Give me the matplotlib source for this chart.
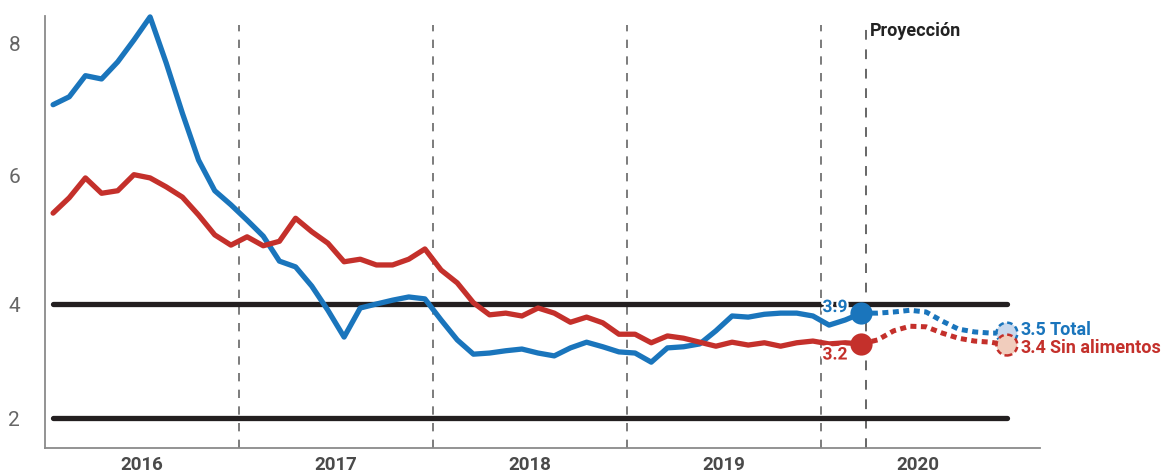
import numpy as np
import pandas as pd
import matplotlib
matplotlib.use("Agg")
import matplotlib.pyplot as plt
import matplotlib.patheffects as pe

# ---------------- data ----------------
months_obs = pd.period_range("2016-01", "2020-03", freq="M")
total_obs = [7.08, 7.20, 7.52, 7.47, 7.73, 8.06, 8.41, 7.71, 6.95, 6.24, 5.77, 5.55,
             5.31, 5.06, 4.67, 4.58, 4.28, 3.89, 3.42, 3.93, 4.00, 4.06, 4.11, 4.08,
             3.72, 3.37, 3.12, 3.14, 3.18, 3.21, 3.14, 3.09, 3.23, 3.33, 3.25, 3.16,
             3.14, 2.98, 3.23, 3.25, 3.30, 3.53, 3.79, 3.77, 3.82, 3.84, 3.84, 3.79,
             3.63, 3.72, 3.84]
core_obs = [5.42, 5.66, 5.97, 5.73, 5.77, 6.02, 5.97, 5.83, 5.67, 5.39, 5.08, 4.92,
            5.05, 4.91, 4.98, 5.34, 5.13, 4.95, 4.66, 4.70, 4.61, 4.61, 4.70, 4.86,
            4.53, 4.33, 4.02, 3.81, 3.84, 3.79, 3.93, 3.84, 3.68, 3.77, 3.67, 3.47,
            3.47, 3.32, 3.44, 3.40, 3.33, 3.26, 3.33, 3.28, 3.32, 3.26, 3.32, 3.35,
            3.30, 3.32, 3.30]

months_proj = pd.period_range("2020-03", "2020-12", freq="M")
total_proj = [3.84, 3.84, 3.86, 3.89, 3.86, 3.70, 3.56, 3.51, 3.49, 3.49]
core_proj = [3.30, 3.37, 3.53, 3.61, 3.60, 3.49, 3.40, 3.35, 3.33, 3.28]

target_band = [2, 4]
y_ticks = [2, 4, 6, 8]
year_labels = ["2016", "2017", "2018", "2019", "2020"]
year_bounds = [2017, 2018, 2019, 2020]
last_labels = ["3.9", "3.2"]
end_values = ["3.5", "3.4"]
end_names = ["Total", "Sin alimentos"]
proj_title = "Proyección"

# ---------------- style ----------------
BLUE = "#1a75bc"
RED = "#c4302b"
BLUE_FILL = "#c9d8ec"
RED_FILL = "#f1cdbd"
BLACK = "#231f20"
GREY = "#666666"
FONT = ["Roboto", "DejaVu Sans"]
plt.rcParams["font.family"] = FONT


def to_x(periods):
    return np.asarray(periods.year + (periods.month - 0.5) / 12.0, dtype=float)


# piecewise-linear vertical scale (the original's axis is not evenly spaced)
knot_v = [-10, 2, 4, 6, 8, 20]
knot_p = [-684, 0, 114, 242, 374, 1166]


def fwd(v):
    return np.interp(v, knot_v, knot_p)


def inv(p):
    return np.interp(p, knot_p, knot_v)


W, H = 1162, 474
fig = plt.figure(figsize=(W / 100, H / 100), dpi=100)
ax = fig.add_axes([45 / W, (H - 448) / H, (1040 - 45) / W, (448 - 16) / H])
ax.set_yscale("function", functions=(fwd, inv))
ax.set_xlim(2016.0, 2016.0 + 995 / 194)
ax.set_ylim(1.474, 8.424)

x_obs = to_x(months_obs)
x_proj = to_x(months_proj)

# year separators and projection marker
for xb in year_bounds:
    ax.axvline(xb, ymin=0, ymax=0.98, color=GREY, lw=1.2, dashes=(5, 5), zorder=1)
proj_x = 2020.232
ax.axvline(proj_x, ymin=0, ymax=0.98, color=GREY, lw=1.4, dashes=(5, 5), zorder=1)
ax.text(proj_x + 0.02, 8.2, proj_title, fontsize=13, fontweight="bold",
        color="#222222", ha="left", va="center")

# target band lines
for t in target_band:
    ax.plot([x_obs[0], x_proj[-1]], [t, t], color=BLACK, lw=3.8,
            solid_capstyle="round", zorder=2)

# observed lines
ax.plot(x_obs, total_obs, color=BLUE, lw=3.8, solid_joinstyle="round",
        solid_capstyle="round", zorder=4, clip_on=False)
ax.plot(x_obs, core_obs, color=RED, lw=3.8, solid_joinstyle="round",
        solid_capstyle="round", zorder=4, clip_on=False)

# projections (dotted)
ax.plot(x_proj, total_proj, color=BLUE, lw=3.6, linestyle=(0, (1.2, 0.9)),
        dash_capstyle="butt", zorder=3)
ax.plot(x_proj, core_proj, color=RED, lw=3.6, linestyle=(0, (1.2, 0.9)),
        dash_capstyle="butt", zorder=3)

# last observed dots
ax.scatter([x_obs[-1]], [total_obs[-1]], s=16 ** 2, color=BLUE, zorder=6,
           linewidths=0)
ax.scatter([x_obs[-1]], [core_obs[-1]], s=16 ** 2, color=RED, zorder=6,
           linewidths=0)

# end-of-projection circles with dashed outlines
ax.scatter([x_proj[-1]], [total_proj[-1]], s=15 ** 2, facecolor=BLUE_FILL,
           edgecolor=BLUE, linewidths=1.8, linestyle=(0, (2.2, 1.4)), zorder=6)
ax.scatter([x_proj[-1]], [core_proj[-1]], s=15 ** 2, facecolor=RED_FILL,
           edgecolor=RED, linewidths=1.8, linestyle=(0, (2.2, 1.4)), zorder=7)

halo = [pe.withStroke(linewidth=3, foreground="white")]
ax.annotate(last_labels[0], (x_obs[-1], total_obs[-1]), xytext=(-10, 4),
            textcoords="offset points", ha="right", va="center", fontsize=12.5,
            fontweight="bold", color=BLUE, path_effects=halo, zorder=8)
ax.annotate(last_labels[1], (x_obs[-1], core_obs[-1]), xytext=(-10, -8),
            textcoords="offset points", ha="right", va="center", fontsize=12.5,
            fontweight="bold", color=RED, path_effects=halo, zorder=8)

for val, name, yv, dy, col in [(end_values[0], end_names[0], total_proj[-1], 2, BLUE),
                              (end_values[1], end_names[1], core_proj[-1], -2, RED)]:
    ax.annotate(val, (x_proj[-1], yv), xytext=(10, dy),
                textcoords="offset points", ha="left", va="center",
                fontsize=13, fontweight="bold", color=col, zorder=8)
    ax.annotate(name, (x_proj[-1], yv), xytext=(31, dy),
                textcoords="offset points", ha="left", va="center",
                fontsize=13, fontweight="semibold", color=col, zorder=8)

# axes cosmetics
for s in ["top", "right"]:
    ax.spines[s].set_visible(False)
for s in ["left", "bottom"]:
    ax.spines[s].set_color("#8a8a8a")
    ax.spines[s].set_linewidth(1.3)

ax.set_yticks(y_ticks)
ax.set_yticklabels([str(v) for v in y_ticks], fontsize=15, color="#666666",
                   fontweight="normal")
ax.yaxis.set_minor_locator(matplotlib.ticker.NullLocator())
ax.tick_params(axis="y", length=0, pad=18)

ax.set_xticks([int(y) + 0.5 for y in year_labels])
ax.set_xticklabels(year_labels, fontsize=13.5, fontweight="bold", color="#4a4a4a")
ax.tick_params(axis="x", length=0, pad=6)

fig.savefig("out.png", dpi=100)
